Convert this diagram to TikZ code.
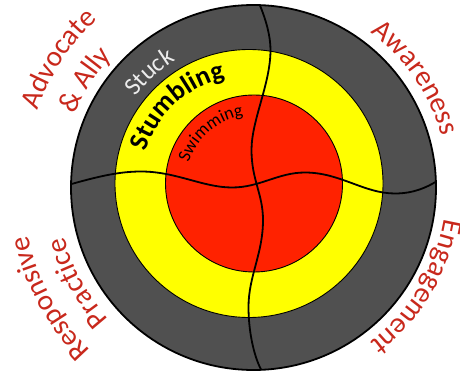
\documentclass[tikz,border=0pt]{standalone}
\usepackage{fontspec}
\setmainfont{Carlito}
\usetikzlibrary{decorations.text}
\definecolor{ringgray}{RGB}{80,80,80}
\definecolor{ringyellow}{RGB}{255,255,0}
\definecolor{ringred}{RGB}{255,34,0}
\definecolor{labelred}{RGB}{200,40,28}
\definecolor{stuckwhite}{RGB}{236,236,236}
\begin{document}
\begin{tikzpicture}[x=1pt,y=1pt,
  wave/.style={line width=1.8pt, line cap=round},
  ringline/.style={draw=black, line width=0.9pt}]
\useasboundingbox (0,0) rectangle (460,372);
% rings
\coordinate (oc) at (253.5,184.5);
\coordinate (yc) at (249,188.5);
\coordinate (rc) at (254,188.5);
\fill[ringgray, draw=black, line width=1.8pt] (oc) circle[radius=182.5pt];
\fill[ringyellow, ringline] (yc) circle[radius=134pt];
\fill[ringred, ringline] (rc) circle[radius=88.5pt];
% wavy dividers
\coordinate (vtop) at (260,366.5);
\coordinate (vbot) at (261,2.5);
\coordinate (hleft) at (71.5,188);
\coordinate (hright) at (435.5,190);
\draw[wave] (vtop) .. controls (266,352) and (270.5,336) .. (270.5,322)
  .. controls (270.5,288) and (251.5,252) .. (251.5,222)
  .. controls (251.5,192) and (263,178) .. (263,152)
  .. controls (263,118) and (248.5,96) .. (248.5,65)
  .. controls (248.5,40) and (254,16) .. (vbot);
\draw[wave] (hleft) .. controls (100,196) and (120,200.5) .. (141,200.5)
  .. controls (176,200.5) and (203,184.5) .. (232,184.5)
  .. controls (260,184.5) and (278,199.5) .. (305,199.5)
  .. controls (340,199.5) and (364,178.5) .. (395,178.5)
  .. controls (414,178.5) and (427,185) .. (hright);
% ring labels
\path[decorate, decoration={text along path, text align=center, text color=stuckwhite,
  text={|\fontsize{25pt}{29pt}\selectfont|Stuck}}]
  (oc) ++(167:149) arc[start angle=167, end angle=97, radius=149];
\path[decorate, decoration={text along path, text align=center, text color=black,
  text={|\fontsize{27pt}{31pt}\selectfont\bfseries|Stumbling}}]
  (yc) ++(177.8:108) arc[start angle=177.8, end angle=87.8, radius=108];
\path[decorate, decoration={text along path, text align=center, text color=black,
  text={|\fontsize{18pt}{22pt}\selectfont|Swimming}}]
  (rc) ++(180.7:68.5) arc[start angle=180.7, end angle=80.7, radius=68.5];
% outer labels
\path[decorate, decoration={text along path, text align=center, text color=labelred,
  text={|\fontsize{29pt}{35pt}\selectfont|Awareness}}]
  (oc) ++(69.1:194.5) arc[start angle=69.1, end angle=-0.9, radius=194.5];
\path[decorate, decoration={text along path, text align=center, text color=labelred,
  text={|\fontsize{29pt}{35pt}\selectfont|Engagement}}]
  (oc) ++(3.8:193.5) arc[start angle=3.8, end angle=-66.2, radius=193.5];
\path[decorate, decoration={text along path, text align=center, text color=labelred,
  text={|\fontsize{29pt}{35pt}\selectfont|Advocate}}]
  (oc) ++(176.6:229.5) arc[start angle=176.6, end angle=116.6, radius=229.5];
\path[decorate, decoration={text along path, text align=center, text color=labelred,
  text={|\fontsize{29pt}{35pt}\selectfont|{\&} Ally}}]
  (oc) ++(177.5:193) arc[start angle=177.5, end angle=117.5, radius=193];
\path[decorate, decoration={text along path, text align=center, text color=labelred,
  text={|\fontsize{29pt}{35pt}\selectfont|Responsive}}]
  (oc) ++(238.6:230.5) arc[start angle=238.6, end angle=178.6, radius=230.5];
\path[decorate, decoration={text along path, text align=center, text color=labelred,
  text={|\fontsize{29pt}{35pt}\selectfont|Practice}}]
  (oc) ++(238.5:195.5) arc[start angle=238.5, end angle=178.5, radius=195.5];
\end{tikzpicture}
\end{document}
